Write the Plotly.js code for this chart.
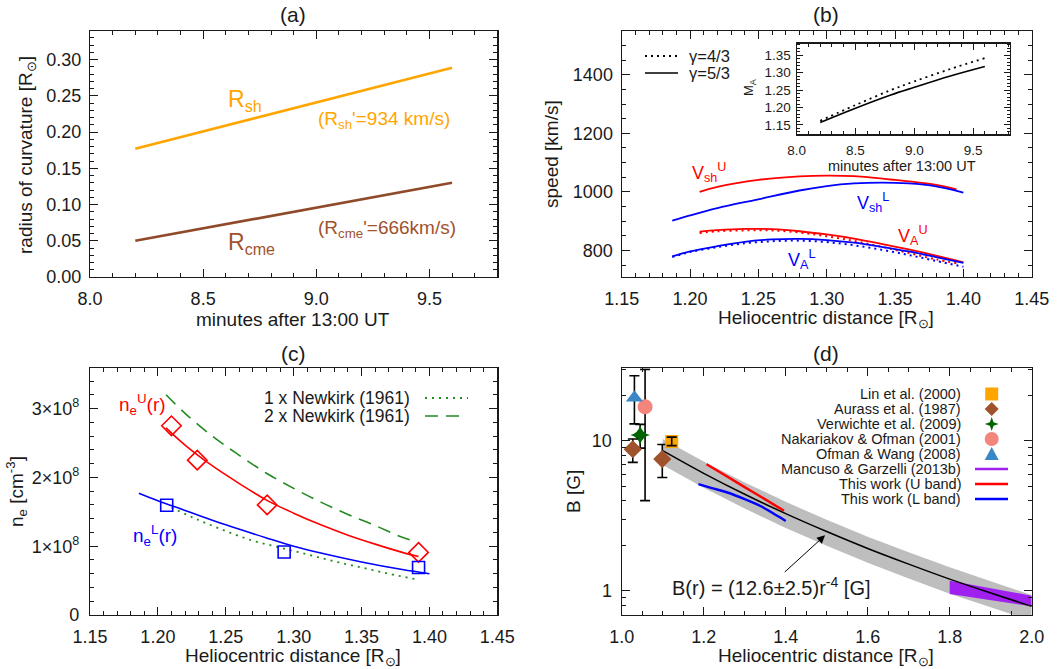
<!DOCTYPE html>
<html>
<head>
<meta charset="utf-8">
<script src="https://cdn.plot.ly/plotly-3.0.1.min.js"></script>
<style>html,body{margin:0;padding:0;background:#fff;}#fig{width:1057px;height:669px;}</style>
</head>
<body>
<div id="fig"></div>
<script>
// ---------- (a) radius of curvature ----------
const tMin = [8.2, 9.6];
const rShock = [0.177, 0.289];
const rCme = [0.050, 0.130];

// ---------- (b) speeds vs heliocentric distance ----------
const vshU_r = [1.207, 1.22, 1.25, 1.28, 1.30, 1.32, 1.35, 1.38, 1.395];
const vshU_v = [1000, 1017, 1041, 1053, 1056, 1054, 1041, 1024, 1009];
const vshL_r = [1.187, 1.20, 1.22, 1.25, 1.28, 1.30, 1.32, 1.34, 1.36, 1.38, 1.40];
const vshL_v = [902, 920, 945, 975, 1005, 1020, 1029, 1032, 1029, 1019, 998];
const vaU_r = [1.207, 1.22, 1.24, 1.26, 1.28, 1.30, 1.32, 1.34, 1.36, 1.38, 1.40];
const vaU53_v = [865, 870, 874, 873, 866, 855, 841, 823, 804, 783, 760];
const vaU43_r = [1.207, 1.22, 1.24, 1.26, 1.28, 1.30, 1.32, 1.34, 1.36, 1.38, 1.395];
const vaU43_v = [860, 866, 869, 869, 862, 849, 833, 813, 792, 770, 757];
const vaL_r = [1.187, 1.20, 1.22, 1.24, 1.26, 1.28, 1.30, 1.32, 1.34, 1.36, 1.38, 1.40];
const vaL53_v = [780, 797, 815, 830, 838, 840, 836, 827, 813, 797, 778, 758];
const vaL43_v = [778, 795, 812, 825, 832, 834, 829, 818, 803, 785, 765, 745];

// inset: Alfven Mach number
const maT = [8.2, 8.5, 8.8, 9.0, 9.3, 9.6];
const ma53 = [1.157, 1.198, 1.236, 1.258, 1.290, 1.318];
const ma43 = [1.162, 1.207, 1.250, 1.275, 1.310, 1.342];

// ---------- (c) electron density ----------
const neU_pts_r = [1.210, 1.229, 1.2805, 1.392];
const neU_pts_n = [2.75e8, 2.25e8, 1.60e8, 0.91e8];
const neL_pts_r = [1.2065, 1.293, 1.392];
const neL_pts_n = [1.595e8, 0.915e8, 0.69e8];
const neU_fit_r = [1.206, 1.22, 1.24, 1.26, 1.28, 1.30, 1.32, 1.34, 1.36, 1.38, 1.392];
const neU_fit_n = [2.72e8, 2.47e8, 2.17e8, 1.91e8, 1.67e8, 1.48e8, 1.31e8, 1.16e8, 1.03e8, 0.91e8, 0.85e8];
const neL_fit_r = [1.186, 1.20, 1.22, 1.25, 1.28, 1.30, 1.32, 1.35, 1.38, 1.40];
const neL_fit_n = [1.77e8, 1.66e8, 1.52e8, 1.31e8, 1.12e8, 1.00e8, 0.90e8, 0.77e8, 0.66e8, 0.60e8];
const newk1_r = [1.21, 1.23, 1.25, 1.27, 1.29, 1.31, 1.33, 1.35, 1.37, 1.39];
const newk1_n = [1.56e8, 1.38e8, 1.22e8, 1.08e8, 0.98e8, 0.88e8, 0.78e8, 0.69e8, 0.60e8, 0.52e8];
const newk2_r = [1.206, 1.22, 1.24, 1.26, 1.28, 1.30, 1.32, 1.34, 1.36, 1.38, 1.39];
const newk2_n = [3.20e8, 2.93e8, 2.60e8, 2.32e8, 2.06e8, 1.84e8, 1.64e8, 1.46e8, 1.30e8, 1.13e8, 1.07e8];
const neTickVals = [0, 1e8, 2e8, 3e8];
const neTickText = ['0', '1×10<sup>8</sup>', '2×10<sup>8</sup>', '3×10<sup>8</sup>'];

// ---------- (d) magnetic field ----------
const fitR = [1.1, 1.2, 1.3, 1.4, 1.5, 1.6, 1.7, 1.8, 1.9, 2.0];
const fitB = [8.61, 6.08, 4.41, 3.28, 2.49, 1.92, 1.51, 1.20, 0.97, 0.79];
const fitBhi = [10.31, 7.28, 5.29, 3.93, 2.98, 2.30, 1.81, 1.44, 1.16, 0.94];
const fitBlo = [6.90, 4.87, 3.54, 2.63, 2.00, 1.54, 1.21, 0.96, 0.78, 0.63];
const mgR = [1.8, 1.9, 2.0];
const mgHi = [1.17, 1.04, 0.93];
const mgLo = [0.955, 0.87, 0.79];
const uBandR = [1.207, 1.25, 1.30, 1.35, 1.396];
const uBandB = [7.0, 5.95, 4.92, 4.08, 3.42];
const lBandR = [1.187, 1.22, 1.256, 1.30, 1.337, 1.37, 1.40];
const lBandB = [5.15, 4.85, 4.55, 4.10, 3.70, 3.28, 2.93];

const linR = [1.122], linB = [9.9], linUp = [0.7], linDn = [0.6];
const aurR = [1.027, 1.099], aurB = [8.8, 7.57], aurUp = [1.5, 1.9], aurDn = [1.6, 1.87];
const verR = [1.045], verB = [10.96], verUp = [1.94], verDn = [2.0];
const nakR = [1.057], nakB = [16.9], nakUp = [13.1], nakDn = [12.9];
const ofmR = [1.031], ofmB = [19.4], ofmUp = [7.8], ofmDn = [6.4];

const refLabels = ['Lin et al. (2000)', 'Aurass et al. (1987)', 'Verwichte et al. (2009)',
  'Nakariakov & Ofman (2001)', 'Ofman & Wang (2008)', 'Mancuso & Garzelli (2013b)',
  'This work (U band)', 'This work (L band)'];

// ---------- styling ----------
const FONT = '"Liberation Sans", Arial, sans-serif';
const W = 1057, H = 669;
const px = v => v / W;
const py = v => 1 - v / H;
const INK = '#1a1a1a';
const ORANGE = '#ffa500', SIENNA = '#a0522d', DKGREEN = '#006400';
const SALMON = '#f3857c', STEEL = '#3a87c8', PURPLE = '#a020f0';

function axis(extra, minor) {
  return Object.assign({
    showline: true, linecolor: INK, linewidth: 1.2, mirror: 'allticks',
    ticks: 'inside', ticklen: 8, tickwidth: 1, tickcolor: INK,
    showgrid: false, zeroline: false, fixedrange: true,
    tickfont: {family: FONT, size: 18, color: INK},
    minor: Object.assign({ticks: 'inside', ticklen: 4, tickwidth: 1, tickcolor: INK, showgrid: false}, minor || {})
  }, extra);
}

const traces = [];
function line(x, y, xa, ya, color, width, dash, shape) {
  traces.push({x: x, y: y, xaxis: xa, yaxis: ya, mode: 'lines', hoverinfo: 'skip',
    line: {color: color, width: width, dash: dash || 'solid', shape: shape || 'spline'}});
}

// (a)
line(tMin, rShock, 'x', 'y', ORANGE, 2.6, 'solid', 'linear');
line(tMin, rCme, 'x', 'y', '#8f4a2a', 2.6, 'solid', 'linear');

// (b)
line(vshU_r, vshU_v, 'x2', 'y2', '#ff0000', 1.8);
line(vshL_r, vshL_v, 'x2', 'y2', '#0000ff', 1.8);
line(vaU43_r, vaU43_v, 'x2', 'y2', '#ff0000', 2, '2px,4px');
line(vaU_r, vaU53_v, 'x2', 'y2', '#ff0000', 1.8);
line(vaL_r, vaL43_v, 'x2', 'y2', '#0000ff', 2, '2px,4px');
line(vaL_r, vaL53_v, 'x2', 'y2', '#0000ff', 1.8);

// inset
line(maT, ma43, 'x5', 'y5', '#000', 1.8, '2px,4px');
line(maT, ma53, 'x5', 'y5', '#000', 1.6);

// (c)
line(newk1_r, newk1_n, 'x3', 'y3', '#228b22', 1.8, '2px,5px');
line(newk2_r, newk2_n, 'x3', 'y3', '#228b22', 1.6, '13px,8px');
line(neU_fit_r, neU_fit_n, 'x3', 'y3', '#ff0000', 1.6);
line(neL_fit_r, neL_fit_n, 'x3', 'y3', '#0000ff', 1.6);
traces.push({x: neU_pts_r, y: neU_pts_n, xaxis: 'x3', yaxis: 'y3', mode: 'markers', hoverinfo: 'skip',
  marker: {symbol: 'diamond-open', size: 15, color: '#ff0000', line: {width: 1.6}}});
traces.push({x: neL_pts_r, y: neL_pts_n, xaxis: 'x3', yaxis: 'y3', mode: 'markers', hoverinfo: 'skip',
  marker: {symbol: 'square-open', size: 12, color: '#0000ff', line: {width: 1.6}}});

// (d) uncertainty band of the r^-4 fit
traces.push({x: fitR, y: fitBlo, xaxis: 'x4', yaxis: 'y4', mode: 'lines', hoverinfo: 'skip',
  line: {width: 0, color: '#bebebe'}});
traces.push({x: fitR, y: fitBhi, xaxis: 'x4', yaxis: 'y4', mode: 'lines', hoverinfo: 'skip',
  line: {width: 0, color: '#bebebe'}, fill: 'tonexty', fillcolor: '#bebebe'});
traces.push({x: mgR, y: mgLo, xaxis: 'x4', yaxis: 'y4', mode: 'lines', hoverinfo: 'skip',
  line: {width: 0, color: PURPLE}});
traces.push({x: mgR, y: mgHi, xaxis: 'x4', yaxis: 'y4', mode: 'lines', hoverinfo: 'skip',
  line: {width: 0, color: PURPLE}, fill: 'tonexty', fillcolor: PURPLE});
line(fitR, fitB, 'x4', 'y4', '#000', 1.5);
line(uBandR, uBandB, 'x4', 'y4', '#ff0000', 2.4);
line(lBandR, lBandB, 'x4', 'y4', '#0000ff', 2.4);

function pts(x, y, up, dn, symbol, size, color, barsOnTop) {
  const err = {type: 'data', symmetric: false, array: up, arrayminus: dn, color: '#000', thickness: 1.6, width: 5};
  if (barsOnTop) {
    traces.push({x: x, y: y, xaxis: 'x4', yaxis: 'y4', mode: 'markers', hoverinfo: 'skip',
      marker: {symbol: symbol, size: size, color: color}});
    traces.push({x: x, y: y, xaxis: 'x4', yaxis: 'y4', mode: 'markers', hoverinfo: 'skip',
      marker: {size: 1, opacity: 0}, error_y: err});
  } else {
    traces.push({x: x, y: y, xaxis: 'x4', yaxis: 'y4', mode: 'markers', hoverinfo: 'skip',
      marker: {symbol: symbol, size: size, color: color}, error_y: err});
  }
}
pts(nakR, nakB, nakUp, nakDn, 'circle', 15, SALMON, false);
pts(ofmR, ofmB, ofmUp, ofmDn, 'triangle-up', 15, STEEL, false);
pts(verR, verB, verUp, verDn, 'star-diamond', 14, DKGREEN, false);
pts(aurR, aurB, aurUp, aurDn, 'diamond', 14, SIENNA, false);
pts(linR, linB, linUp, linDn, 'square', 13, ORANGE, true);

// ---------- annotations ----------
const ann = [];
function paperText(text, x, y, size, extra) {
  ann.push(Object.assign({text: text, xref: 'paper', yref: 'paper', x: px(x), y: py(y),
    showarrow: false, font: {family: FONT, size: size, color: INK}, xanchor: 'center', yanchor: 'middle'}, extra || {}));
}
function dataText(text, xa, ya, x, y, size, color, extra) {
  ann.push(Object.assign({text: text, xref: xa, yref: ya, x: x, y: y, showarrow: false,
    font: {family: FONT, size: size, color: color}, xanchor: 'left', yanchor: 'middle'}, extra || {}));
}

// panel letters
paperText('(a)', 293, 15, 21);
paperText('(b)', 826, 15, 21);
paperText('(c)', 293, 353, 21);
paperText('(d)', 826, 353, 21);

// axis titles
paperText('minutes after 13:00 UT', 293, 319, 19);
paperText('Heliocentric distance [R<sub>⊙</sub>]', 826, 319, 19);
paperText('Heliocentric distance [R<sub>⊙</sub>]', 293, 657, 19);
paperText('Heliocentric distance [R<sub>⊙</sub>]', 826, 657, 19);
paperText('radius of curvature [R<sub>⊙</sub>]', 27, 155, 19, {textangle: -90});
paperText('speed [km/s]', 552, 154, 19, {textangle: -90});
paperText('n<sub>e</sub> [cm<sup>-3</sup>]', 16, 492, 19, {textangle: -90});
paperText('B [G]', 573, 492, 19, {textangle: -90});
paperText('M<sub>A</sub>', 750, 87, 13, {textangle: -90});
paperText('minutes after 13:00 UT', 902, 166.5, 14.5);

// (a) labels
dataText('R<sub>sh</sub>', 'x', 'y', 8.60, 0.244, 23, ORANGE);
dataText('(R<sub>sh</sub>\'=934 km/s)', 'x', 'y', 9.0, 0.2165, 19, ORANGE);
dataText('R<sub>cme</sub>', 'x', 'y', 8.60, 0.0465, 23, SIENNA);
dataText('(R<sub>cme</sub>\'=666km/s)', 'x', 'y', 9.0, 0.0665, 19, SIENNA);

// (b) labels
dataText('V<sub>sh</sub><sup>U</sup>', 'x2', 'y2', 1.200, 1065, 18, '#ff0000');
dataText('V<sub>sh</sub><sup>L</sup>', 'x2', 'y2', 1.3207, 964, 18, '#0000ff');
dataText('V<sub>A</sub><sup>U</sup>', 'x2', 'y2', 1.3505, 852, 18, '#ff0000');
dataText('V<sub>A</sub><sup>L</sup>', 'x2', 'y2', 1.2702, 770, 18, '#0000ff');
paperText('γ=4/3', 687, 55.5, 16.5, {xanchor: 'left'});
paperText('γ=5/3', 687, 73.5, 16.5, {xanchor: 'left'});

// (c) labels
dataText('n<sub>e</sub><sup>U</sup>(r)', 'x3', 'y3', 1.1697, 3.06e8, 19, '#ff0000');
dataText('n<sub>e</sub><sup>L</sup>(r)', 'x3', 'y3', 1.180, 1.16e8, 19, '#0000ff');
paperText('1 x Newkirk (1961)', 412, 398, 17.5, {xanchor: 'right'});
paperText('2 x Newkirk (1961)', 412, 416, 17.5, {xanchor: 'right'});

// (d) legend text
const rowY = [394, 409, 424, 439, 454, 469, 484, 499];
refLabels.forEach((t, i) => paperText(t, 963, rowY[i], 14.5, {xanchor: 'right'}));

// (d) fit formula with arrow
ann.push({text: 'B(r) = (12.6±2.5)r<sup>-4</sup> [G]', xref: 'x4', yref: 'y4', x: 1.366, y: Math.log10(1.07),
  showarrow: false, font: {family: FONT, size: 20, color: INK}, xanchor: 'center', yanchor: 'middle'});
ann.push({text: '', xref: 'x4', yref: 'y4', axref: 'x4', ayref: 'y4',
  x: 1.496, y: Math.log10(2.35), ax: 1.394, ay: Math.log10(1.31),
  showarrow: true, arrowhead: 2, arrowsize: 1.6, arrowwidth: 1, arrowcolor: '#000'});

// ---------- legend keys drawn as layout shapes ----------
const shapes = [];
function keyLine(x0, x1, y, color, width, dash) {
  shapes.push({type: 'line', xref: 'paper', yref: 'paper', x0: px(x0), x1: px(x1), y0: py(y), y1: py(y),
    line: {color: color, width: width, dash: dash || 'solid'}});
}
keyLine(645, 678, 56, '#000', 1.8, '2px,4px');
keyLine(645, 678, 73, '#000', 1.6);
keyLine(425, 468, 398, '#228b22', 1.8, '2px,5px');
keyLine(425, 460, 416, '#228b22', 1.6, '13px,8px');
keyLine(975, 1008, 469, PURPLE, 2.4);
keyLine(975, 1008, 484, '#ff0000', 2.4);
keyLine(975, 1008, 499, '#0000ff', 2.4);

function keyPath(path, y, color) {
  shapes.push({type: 'path', xref: 'paper', yref: 'paper', xsizemode: 'pixel', ysizemode: 'pixel',
    xanchor: px(991.7), yanchor: py(y), path: path, fillcolor: color, line: {width: 0}});
}
keyPath('M-6.5,-6.5L6.5,-6.5L6.5,6.5L-6.5,6.5Z', 394, ORANGE);
keyPath('M0,-7L7,0L0,7L-7,0Z', 409, SIENNA);
keyPath('M0,-7L1.8,-1.8L7,0L1.8,1.8L0,7L-1.8,1.8L-7,0L-1.8,-1.8Z', 424, DKGREEN);
shapes.push({type: 'circle', xref: 'paper', yref: 'paper', xsizemode: 'pixel', ysizemode: 'pixel',
  xanchor: px(991.7), yanchor: py(439), x0: -7, x1: 7, y0: -7, y1: 7, fillcolor: SALMON, line: {width: 0}});
keyPath('M-7,-6L7,-6L0,7Z', 454, STEEL);

// ---------- layout ----------
const layout = {
  width: W, height: H, margin: {l: 0, r: 0, t: 0, b: 0},
  paper_bgcolor: '#fff', plot_bgcolor: 'rgba(0,0,0,0)', showlegend: false,
  font: {family: FONT, size: 18, color: INK},
  xaxis: axis({domain: [px(90), px(497.3)], anchor: 'y', range: [8.0, 9.8], dtick: 0.5, tick0: 8,
    tickformat: '.1f', ticklabelstandoff: 5}, {dtick: 0.1, tick0: 8}),
  yaxis: axis({domain: [py(277), py(30.7)], anchor: 'x', range: [0, 0.34], dtick: 0.05, tick0: 0,
    tickformat: '.2f', ticklabelstandoff: 4}, {dtick: 0.01, tick0: 0}),
  xaxis2: axis({domain: [px(621.7), px(1031.7)], anchor: 'y2', range: [1.15, 1.45], dtick: 0.05, tick0: 1.15,
    tickformat: '.2f', ticklabelstandoff: 5}, {dtick: 0.01, tick0: 1.15}),
  yaxis2: axis({domain: [py(277), py(30.7)], anchor: 'x2', range: [710, 1550], dtick: 200, tick0: 0,
    ticklabelstandoff: 4}, {dtick: 50, tick0: 0}),
  xaxis3: axis({domain: [px(90), px(497.3)], anchor: 'y3', range: [1.15, 1.45], dtick: 0.05, tick0: 1.15,
    tickformat: '.2f', ticklabelstandoff: 5}, {dtick: 0.01, tick0: 1.15}),
  yaxis3: axis({domain: [py(615), py(368.3)], anchor: 'x3', range: [0, 3.585e8], tickmode: 'array',
    tickvals: neTickVals, ticktext: neTickText, ticklabelstandoff: 6}, {dtick: 2e7, tick0: 0}),
  xaxis4: axis({domain: [px(621.7), px(1031.7)], anchor: 'y4', range: [1.0, 2.0], dtick: 0.2, tick0: 1,
    tickformat: '.1f', ticklabelstandoff: 5}, {dtick: 0.05, tick0: 1}),
  yaxis4: axis({domain: [py(615), py(368.3)], anchor: 'x4', type: 'log', range: [-0.16, 1.484],
    tickmode: 'array', tickvals: [1, 10], ticktext: ['1', '10'], ticklabelstandoff: 5},
    {tickmode: 'array', tickvals: [0.7, 0.8, 0.9, 2, 3, 4, 5, 6, 7, 8, 9, 20, 30]}),
  xaxis5: axis({domain: [px(796.7), px(1009.5)], anchor: 'y5', range: [8.0, 9.81], dtick: 0.5, tick0: 8,
    tickformat: '.1f', ticklen: 6, tickfont: {family: FONT, size: 13.5, color: INK}, ticklabelstandoff: 3},
    {dtick: 0.1, tick0: 8, ticklen: 3}),
  yaxis5: axis({domain: [py(134.3), py(43.5)], anchor: 'x5', range: [1.123, 1.384], dtick: 0.05, tick0: 1.15,
    tickformat: '.2f', ticklen: 6, tickfont: {family: FONT, size: 13.5, color: INK}, ticklabelstandoff: 2},
    {dtick: 0.01, tick0: 1.15, ticklen: 3}),
  annotations: ann,
  shapes: shapes
};

Plotly.newPlot('fig', traces, layout, {staticPlot: true, displayModeBar: false});
</script>
</body>
</html>
